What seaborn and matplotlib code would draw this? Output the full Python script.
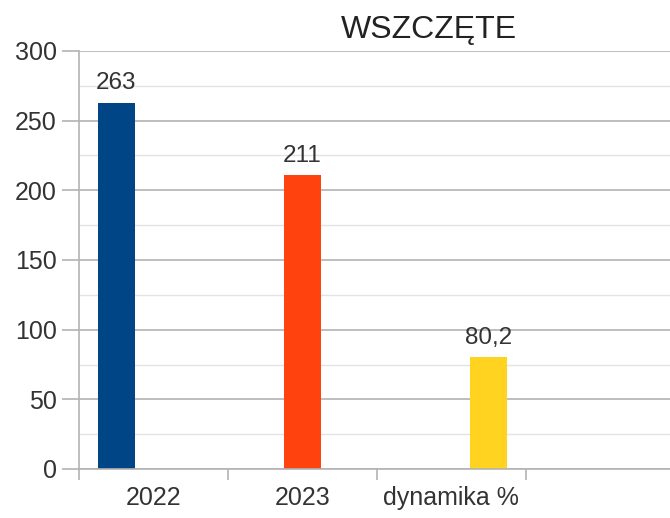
import matplotlib
matplotlib.use("Agg")
import matplotlib.pyplot as plt
import seaborn as sns
import pandas as pd
from matplotlib.ticker import FixedLocator, MultipleLocator

categories = ["2022", "2023", "dynamika %"]
values = [263, 211, 80.2]
value_labels = ["263", "211", "80,2"]
colors = ["#004586", "#ff420e", "#ffd320"]
title = "WSZCZĘTE"
y_ticks = [0, 50, 100, 150, 200, 250, 300]

sns.set_theme(style="white")
plt.rcParams["font.family"] = ["Liberation Sans", "DejaVu Sans"]

df = pd.DataFrame({"kategoria": categories, "wartosc": values})

fig = plt.figure(figsize=(6.7, 5.18), dpi=100)
ax = fig.add_axes([79 / 670, 1 - 469 / 518, 1 - 79 / 670, (469 - 51) / 518])

sns.barplot(data=df, x="kategoria", y="wartosc", hue="kategoria",
            hue_order=categories, order=categories, palette=colors,
            dodge=True, width=0.75, saturation=1, legend=False, ax=ax,
            edgecolor="none", linewidth=0)

for cont, lab in zip(ax.containers, value_labels):
    ax.bar_label(cont, labels=[lab], padding=6, fontsize=17.5, color="#333333")

ax.set_ylim(0, 300)
ax.set_xlim(-0.5, 3.47)
ax.set_yticks(y_ticks)
ax.yaxis.set_minor_locator(MultipleLocator(25))
ax.xaxis.set_minor_locator(FixedLocator([-0.5, 0.5, 1.5, 2.5]))
ax.set_xlabel("")
ax.set_ylabel("")

ax.grid(True, axis="y", which="major", color="#b3b3b3", linewidth=1.2)
ax.grid(True, axis="y", which="minor", color="#e3e3e3", linewidth=1.0)
ax.set_axisbelow(True)

ax.tick_params(axis="y", which="major", length=12, width=1.2, color="#b3b3b3",
               labelsize=18, labelcolor="#333333", pad=4, left=True)
ax.tick_params(axis="y", which="minor", length=0)
ax.tick_params(axis="x", which="major", length=0, labelsize=18,
               labelcolor="#333333", pad=12)
ax.tick_params(axis="x", which="minor", length=8, width=1.2, color="#b3b3b3",
               bottom=True)

for s in ["top", "right"]:
    ax.spines[s].set_visible(False)
for s in ["left", "bottom"]:
    ax.spines[s].set_color("#b3b3b3")
    ax.spines[s].set_linewidth(1.2)

fig.text(429 / 670, 1 - 30 / 518, title, ha="center", va="center",
         fontsize=23, color="#222222")

fig.savefig("out.png", dpi=100, facecolor="white")
